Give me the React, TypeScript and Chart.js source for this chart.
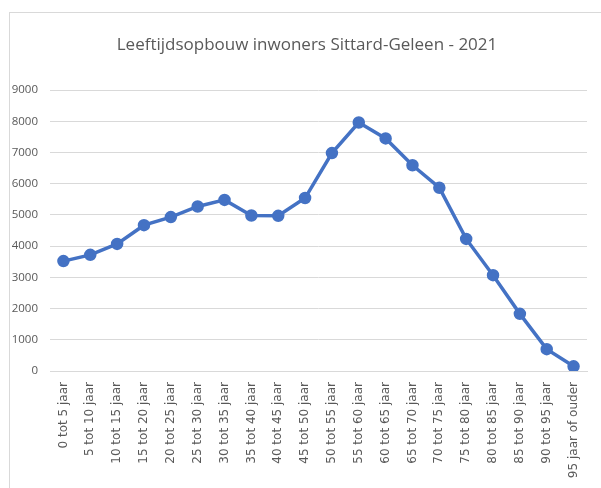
import React, { useEffect, useRef } from "react";
import { Chart, registerables } from "chart.js";

Chart.register(...registerables);

const chartTitle = "Leeftijdsopbouw inwoners Sittard-Geleen - 2021";
const categories = [
  "0 tot 5 jaar", "5 tot 10 jaar", "10 tot 15 jaar", "15 tot 20 jaar", "20 tot 25 jaar",
  "25 tot 30 jaar", "30 tot 35 jaar", "35 tot 40 jaar", "40 tot 45 jaar", "45 tot 50 jaar",
  "50 tot 55 jaar", "55 tot 60 jaar", "60 tot 65 jaar", "65 tot 70 jaar", "70 tot 75 jaar",
  "75 tot 80 jaar", "80 tot 85 jaar", "85 tot 90 jaar", "90 tot 95 jaar", "95 jaar of ouder",
];
const inwoners = [
  3520, 3720, 4070, 4670, 4930, 5270, 5480, 4980, 4970, 5540,
  6980, 7960, 7450, 6590, 5870, 4230, 3070, 1830, 700, 150,
];
const yMin = 0;
const yMax = 9000;
const yStep = 1000;

const titlePlugin = {
  id: "customTitle",
  afterDraw(chart: any) {
    const ctx = chart.ctx;
    ctx.save();
    ctx.fillStyle = "#595959";
    ctx.font = "17px 'Open Sans', sans-serif";
    ctx.textAlign = "center";
    ctx.textBaseline = "middle";
    ctx.fillText(chartTitle, 307, 45);
    ctx.restore();
  },
};

export default function App() {
  const ref = useRef<HTMLCanvasElement | null>(null);
  useEffect(() => {
    if (!ref.current) return;
    const chart = new Chart(ref.current, {
      type: "line",
      data: {
        labels: categories,
        datasets: [
          {
            data: inwoners,
            borderColor: "#4472C4",
            backgroundColor: "#4472C4",
            borderWidth: 3.5,
            pointRadius: 4.5,
            pointBackgroundColor: "#4472C4",
            pointBorderColor: "#4472C4",
            tension: 0,
          },
        ],
      },
      plugins: [titlePlugin],
      options: {
        animation: false,
        responsive: false,
        layout: { padding: { left: 0, right: 14, top: 90, bottom: 0 } },
        plugins: {
          legend: { display: false },
          tooltip: { enabled: false },
          title: { display: false },
        },
        scales: {
          x: {
            offset: true,
            grid: { display: false, drawTicks: false },
            border: { display: true, color: "#d9d9d9" },
            ticks: {
              color: "#595959",
              font: { family: "'DejaVu Sans', sans-serif", size: 12 },
              minRotation: 90,
              maxRotation: 90,
              autoSkip: false,
              padding: 11,
            },
            afterFit: (s: any) => {
              s.height = 117;
            },
          },
          y: {
            min: yMin,
            max: yMax,
            grid: { color: "#d9d9d9", drawTicks: false, lineWidth: 1 },
            border: { display: false },
            ticks: {
              stepSize: yStep,
              color: "#595959",
              font: { family: "'Open Sans', sans-serif", size: 11.5 },
              padding: 12,
              callback: (v: any) => String(v),
            },
            afterFit: (s: any) => {
              s.width = 50;
            },
          },
        },
      },
    });
    return () => chart.destroy();
  }, []);
  return (
    <div style={{ position: "fixed", left: 0, top: 0, width: 601, height: 488, background: "#fff" }}>
      <div
        style={{
          position: "absolute",
          left: 9,
          top: 12,
          right: 0,
          bottom: 0,
          borderLeft: "1px solid #d9d9d9",
          borderTop: "1px solid #d9d9d9",
        }}
      />
      <canvas ref={ref} width={601} height={488} style={{ position: "absolute", left: 0, top: 0 }} />
    </div>
  );
}
